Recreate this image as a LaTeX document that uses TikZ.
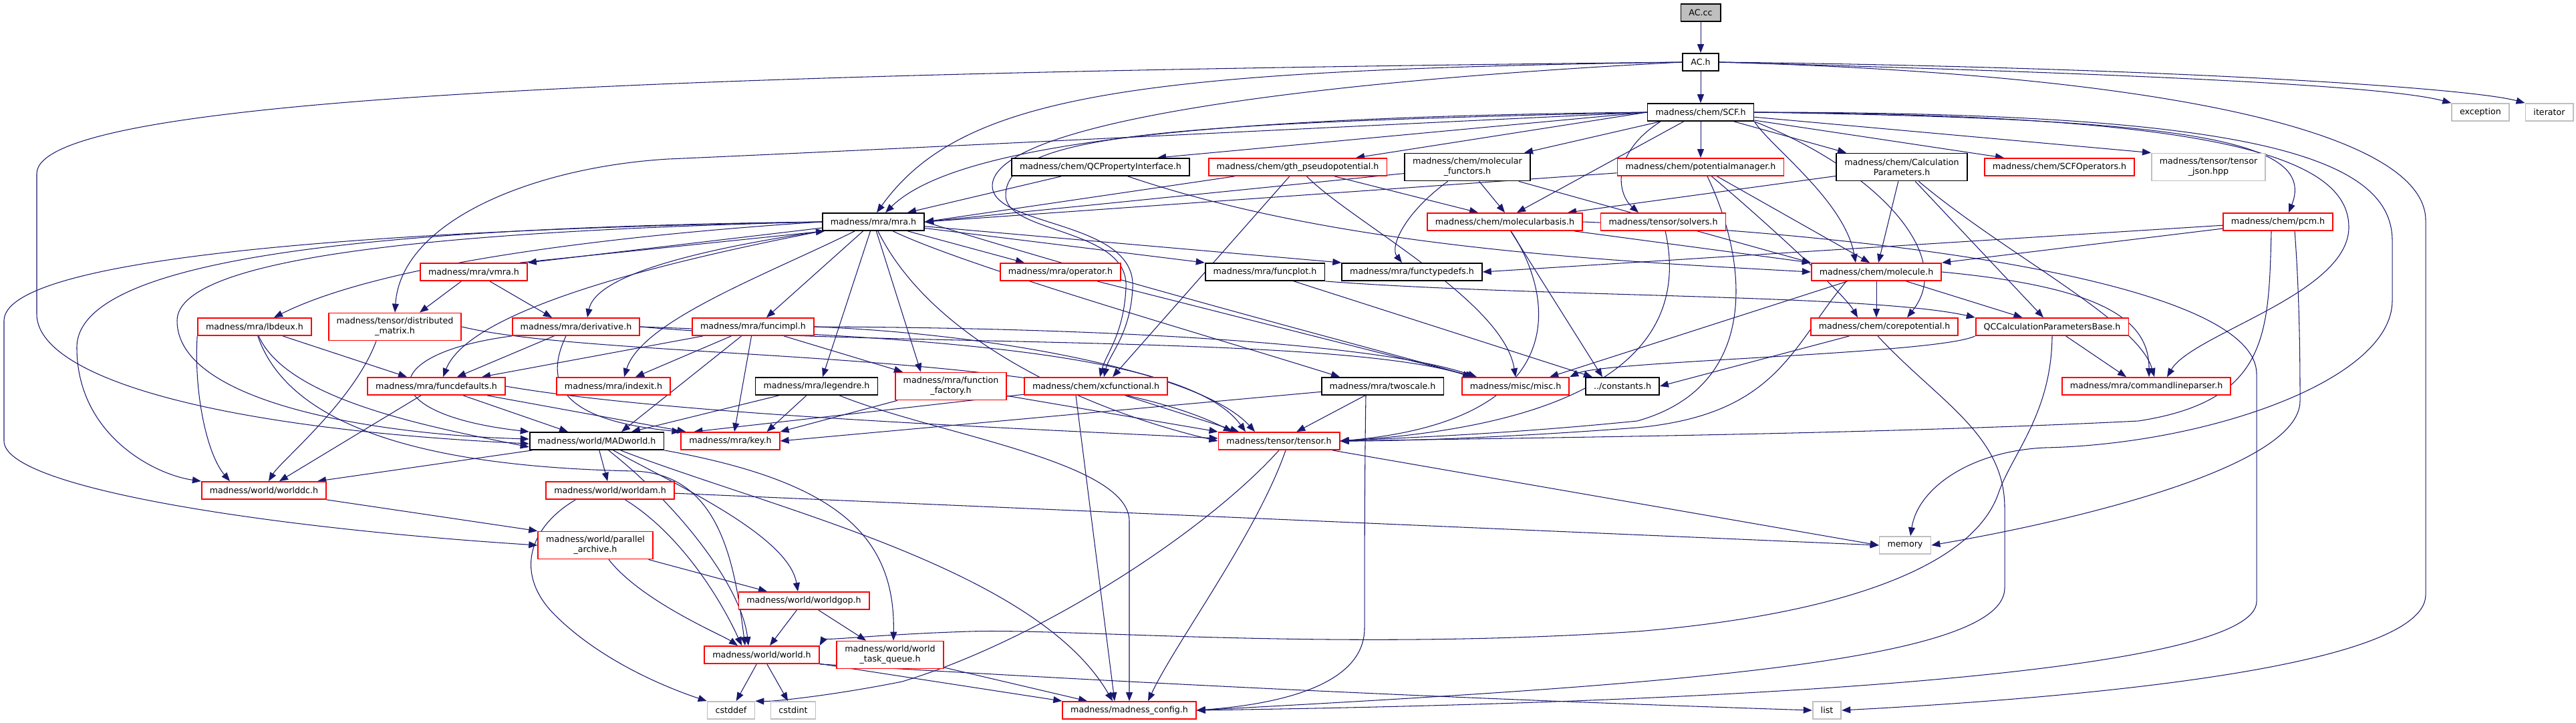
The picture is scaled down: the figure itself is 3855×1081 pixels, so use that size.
\documentclass[tikz,border=0pt]{standalone}
\usepackage{fontspec}
\setmainfont{DejaVu Sans}
\usepackage{tikz}
\usetikzlibrary{arrows.meta,calc,backgrounds}
\definecolor{edgeblue}{RGB}{25,25,112}
\definecolor{sysgray}{RGB}{191,191,191}

\begin{document}
\begin{tikzpicture}[x=0.01cm, y=-0.01cm,
  hdr/.style={draw=black, fill=white, line width=0.5pt, inner xsep=0.12cm, inner ysep=0pt,
    minimum height=0.26cm, align=center, font=\fontsize{3.6}{4.3}\selectfont},
  cut/.style={hdr, draw=red},
  sys/.style={hdr, draw=sysgray},
  srcfile/.style={hdr, fill=sysgray},
  tall/.style={minimum height=0.41cm},
  dep/.style={draw=edgeblue, line width=0.3pt, -{Triangle[length=0.13cm, width=0.1cm]}},
]
\useasboundingbox (0,0) rectangle (3855,1081);

% headers
\node[srcfile] (accc) at (2545,19) {AC.cc};
\node[hdr] (ach) at (2545,93) {AC.h};
\node[hdr] (scf) at (2545,168) {madness/chem/SCF.h};
\node[sys] (exc) at (3712,168) {exception};
\node[sys] (iter) at (3815,168) {iterator};
\node[hdr] (qcprop) at (1647,250) {madness/chem/QCPropertyInterface.h};
\node[cut] (gth) at (1942,250) {madness/chem/gth\_pseudopotential.h};
\node[hdr, tall] (molfunc) at (2196,250) {madness/chem/molecular\\\_functors.h};
\node[cut] (potmgr) at (2545,250) {madness/chem/potentialmanager.h};
\node[hdr, tall] (calcpar) at (2846,250) {madness/chem/Calculation\\Parameters.h};
\node[cut] (scfops) at (3082,250) {madness/chem/SCFOperators.h};
\node[sys, tall] (tjson) at (3305,250) {madness/tensor/tensor\\\_json.hpp};
\node[hdr] (mra) at (1307,332) {madness/mra/mra.h};
\node[cut] (molbasis) at (2252,332) {madness/chem/molecularbasis.h};
\node[cut] (solvers) at (2489,332) {madness/tensor/solvers.h};
\node[cut] (pcm) at (3409,332) {madness/chem/pcm.h};
\node[cut] (vmra) at (709,407) {madness/mra/vmra.h};
\node[cut] (oper) at (1587,407) {madness/mra/operator.h};
\node[hdr] (funcplot) at (1893,407) {madness/mra/funcplot.h};
\node[hdr] (ftypes) at (2113,407) {madness/mra/functypedefs.h};
\node[cut] (molecule) at (2808,407) {madness/chem/molecule.h};
\node[cut] (lbdeux) at (381,489) {madness/mra/lbdeux.h};
\node[cut, tall] (distmat) at (591,489) {madness/tensor/distributed\\\_matrix.h};
\node[cut] (deriv) at (862,489) {madness/mra/derivative.h};
\node[cut] (funcimpl) at (1127,489) {madness/mra/funcimpl.h};
\node[cut] (corepot) at (2820,489) {madness/chem/corepotential.h};
\node[cut] (qcbase) at (3071,489) {QCCalculationParametersBase.h};
\node[cut] (funcdef) at (653,578) {madness/mra/funcdefaults.h};
\node[cut] (indexit) at (918,578) {madness/mra/indexit.h};
\node[hdr] (legendre) at (1222,578) {madness/mra/legendre.h};
\node[cut, tall] (ffactory) at (1423,578) {madness/mra/function\\\_factory.h};
\node[cut] (xcfun) at (1640,578) {madness/chem/xcfunctional.h};
\node[hdr] (twoscale) at (2069,578) {madness/mra/twoscale.h};
\node[cut] (misc) at (2268,578) {madness/misc/misc.h};
\node[hdr] (consts) at (2428,578) {../constants.h};
\node[cut] (cmdline) at (3212,578) {madness/mra/commandlineparser.h};
\node[hdr] (madworld) at (893,660) {madness/world/MADworld.h};
\node[cut] (key) at (1093,660) {madness/mra/key.h};
\node[cut] (tensor) at (1914,660) {madness/tensor/tensor.h};
\node[cut] (worlddc) at (395,734) {madness/world/worlddc.h};
\node[cut] (worldam) at (913,734) {madness/world/worldam.h};
\node[cut, tall] (parch) at (891,816) {madness/world/parallel\\\_archive.h};
\node[sys] (memory) at (2851,816) {memory};
\node[cut] (worldgop) at (1203,899) {madness/world/worldgop.h};
\node[cut] (world) at (1140,980) {madness/world/world.h};
\node[cut, tall] (taskq) at (1332,980) {madness/world/world\\\_task\_queue.h};
\node[sys] (cstddef) at (1094,1063) {cstddef};
\node[sys] (cstdint) at (1187,1063) {cstdint};
\node[cut] (config) at (1690,1063) {madness/madness\_config.h};
\node[sys] (list) at (2734,1063) {list};

\begin{scope}[on background layer]
\foreach \a/\b in {accc/ach, ach/scf, scf/potmgr, scf/tjson.north west,
  mra/funcplot.north west, mra/ftypes.north west, mra/vmra.north east,
  potmgr/mra.east, gth/mra.east, molfunc/mra.east, molfunc/molbasis.north,
  molfunc/molecule.north west, molbasis/molecule.north west, calcpar/qcbase,
  pcm/molecule.north east, pcm/ftypes.east, ffactory/key.north east,
  ffactory/tensor.north west, twoscale/tensor, twoscale/key.east,
  madworld/worldam, worlddc/parch.north west, worldam/memory.west,
  tensor/memory.west, world/cstddef, world/cstdint, world/config.north west,
  molecule/qcbase, corepot/consts.east, funcdef/worlddc}
  \draw[dep] (\a) -- (\b);

% AC.h
\draw[dep] (ach.east) .. controls (3100,108) and (3560,125) .. (exc.north west);
\draw[dep] (ach.east) .. controls (3200,100) and (3690,130) .. (iter.north west);
\draw[dep] (ach.east) .. controls (3250,112) and (3630,200) .. (3630,330) -- (3630,890) .. controls (3630,1010) and (3000,1050) .. (list.east);
\draw[dep] (ach.west) .. controls (1700,105) and (1440,140) .. ($(mra.north)+(5,0)$);
\draw[dep] (ach.west) .. controls (900,110) and (55,150) .. (55,260) -- (55,470) .. controls (55,560) and (300,640) .. ($(madworld.west)+(0,4)$);
\draw[dep] (ach.west) .. controls (1900,125) and (1480,190) .. (1485,280) .. controls (1490,340) and (1700,330) .. (1695,430) .. controls (1692,500) and (1660,530) .. ($(xcfun.north)+(12,0)$);

% SCF.h
\draw[dep] (scf.west) -- ($(qcprop.north)+(85,0)$);
\draw[dep] (scf.west) -- ($(gth.north)+(87,0)$);
\draw[dep] (scf) -- ($(molfunc.north)+(85,0)$);
\draw[dep] (scf) -- ($(molbasis.north)+(18,0)$);
\draw[dep] (scf) -- ($(calcpar.north)-(83,0)$);
\draw[dep] (scf) -- ($(scfops.north)-(83,0)$);
\draw[dep] (scf.west) .. controls (1800,175) and (1430,215) .. ($(mra.north)+(18,0)$);
\draw[dep] (scf.west) .. controls (1750,185) and (1510,200) .. (1505,290) .. controls (1500,350) and (1690,340) .. (1685,430) .. controls (1682,500) and (1655,530) .. ($(xcfun.north)+(6,0)$);
\draw[dep] (scf.west) .. controls (2000,190) and (1300,225) .. (1000,238) .. controls (800,250) and (600,330) .. (distmat.north);
\draw[dep] ($(scf.south)-(60,0)$) .. controls (2410,230) and (2420,290) .. ($(solvers.north)-(37,0)$);
\draw[dep] (scf.east) .. controls (3250,178) and (3470,205) .. ($(pcm.north)+(16,0)$);
\draw[dep] (scf.south east) .. controls (2650,220) and (2760,300) .. ($(molecule.north)-(31,0)$);
\draw[dep] (scf.south east) .. controls (2800,250) and (2930,380) .. ($(corepot.north)+(34,0)$);
\draw[dep] (scf.east) .. controls (3300,172) and (3515,230) .. (3515,340) .. controls (3515,440) and (3280,500) .. ($(cmdline.north)+(31,0)$);
\draw[dep] (scf.east) .. controls (3350,168) and (3580,230) .. (3580,360) -- (3580,450) .. controls (3580,570) and (3300,665) .. (3060,670) .. controls (2950,675) and (2870,730) .. ($(memory.north)+(8,0)$);

% mra.h
\draw[dep] ($(vmra.north east)-(12,0)$) -- ($(mra.south west)+(4,0)$);
\draw[dep] (mra.west) .. controls (950,350) and (580,390) .. ($(lbdeux.north)+(29,0)$);
\draw[dep] (mra.south west) .. controls (1000,380) and (890,420) .. ($(deriv.north)+(17,0)$);
\draw[dep] (mra) -- ($(funcimpl.north)+(20,0)$);
\draw[dep] (mra.south west) .. controls (950,400) and (700,470) .. ($(funcdef.north)+(10,0)$);
\draw[dep] (mra) .. controls (1150,410) and (960,480) .. ($(indexit.north)+(16,0)$);
\draw[dep] (mra) -- ($(legendre.north)+(9,0)$);
\draw[dep] (mra) -- ($(ffactory.north)-(45,0)$);
\draw[dep] (mra) -- ($(oper.north)-(54,0)$);
\draw[dep] (mra) .. controls (1450,400) and (1800,500) .. ($(twoscale.north)-(64,0)$);
\draw[dep] (mra.east) .. controls (1700,430) and (2050,520) .. ($(misc.north)-(62,0)$);
\draw[dep] (mra) .. controls (1400,520) and (1650,620) .. (tensor.west);
\draw[dep] (mra.west) .. controls (700,345) and (265,380) .. (265,480) .. controls (265,600) and (550,650) .. ($(madworld.west)-(0,3)$);
\draw[dep] (mra.west) .. controls (600,340) and (115,380) .. (115,520) .. controls (115,650) and (230,710) .. (worlddc.north west);
\draw[dep] (mra.west) .. controls (500,345) and (6,390) .. (6,480) -- (6,660) .. controls (6,730) and (400,790) .. (parch.west);

% mra sub-headers
\draw[dep] (vmra) -- ($(distmat.north)+(37,0)$);
\draw[dep] (vmra) -- ($(deriv.north)-(36,0)$);
\draw[dep] (lbdeux) -- ($(funcdef.north)-(44,0)$);
\draw[dep] (lbdeux.south west) .. controls (290,590) and (310,680) .. ($(worlddc.north)-(51,0)$);
\draw[dep] (lbdeux) .. controls (430,600) and (650,640) .. ($(madworld.west)+(0,9)$);
\draw[dep] (lbdeux) .. controls (440,660) and (700,700) .. (950,705) .. controls (1080,710) and (1100,850) .. ($(world.north)-(25,0)$);
\draw[dep] ($(distmat.south)-(28,0)$) .. controls (530,600) and (420,690) .. ($(worlddc.north)+(7,0)$);
\draw[dep] (distmat.east) .. controls (900,540) and (1600,520) .. ($(tensor.north)-(70,0)$);
\draw[dep] (deriv) -- ($(funcdef.north)+(31,0)$);
\draw[dep] (deriv.south west) .. controls (560,530) and (560,620) .. (madworld.north west);
\draw[dep] ($(deriv.south)-(15,0)$) .. controls (810,580) and (850,630) .. (key.north west);
\draw[dep] (deriv.east) .. controls (1300,520) and (2000,500) .. ($(misc.north)-(66,0)$);
\draw[dep] (deriv.east) .. controls (1400,505) and (1780,530) .. ($(tensor.north)-(50,0)$);
\draw[dep] (funcimpl) -- ($(funcdef.north)+(68,0)$);
\draw[dep] (funcimpl) -- ($(indexit.north)+(33,0)$);
\draw[dep] (funcimpl) -- ($(madworld.north)+(37,0)$);
\draw[dep] (funcimpl) -- ($(key.north)+(6,0)$);
\draw[dep] (funcimpl) -- ($(ffactory.north)-(72,0)$);
\draw[dep] (funcimpl.east) .. controls (1600,490) and (2050,510) .. ($(misc.north)-(58,0)$);
\draw[dep] (funcimpl.east) .. controls (1500,500) and (1800,560) .. ($(tensor.north)-(36,0)$);
\draw[dep] (funcdef) -- ($(madworld.north)-(43,0)$);
\draw[dep] (funcdef) -- ($(key.north west)+(8,0)$);
\draw[dep] (funcdef.east) .. controls (1000,620) and (1500,640) .. ($(tensor.west)-(0,4)$);
\draw[dep] (legendre) -- ($(madworld.north)+(52,0)$);
\draw[dep] (legendre) -- ($(key.north east)-(20,0)$);
\draw[dep] (legendre) .. controls (1400,650) and (1690,690) .. (1690,780) -- (config.north);
\draw[dep] (xcfun) -- ($(key.north west)+(20,0)$);
\draw[dep] (xcfun) -- ($(tensor.north)-(60,0)$);
\draw[dep] ($(xcfun.south)-(30,0)$) -- ($(config.north)-(22,0)$);
\draw[dep] ($(twoscale.south)-(25,0)$) .. controls (2042,700) and (2042,880) .. (2042,940) .. controls (2042,1030) and (1900,1055) .. (config.east);
\draw[dep] (funcplot) -- ($(consts.north)-(45,0)$);
\draw[dep] (funcplot.south east) .. controls (2300,445) and (2800,440) .. (qcbase.north west);
\draw[dep] (oper) -- ($(misc.north)-(60,0)$);

% chem headers
\draw[dep] (qcprop) -- ($(mra.north)+(51,0)$);
\draw[dep] (qcprop) .. controls (2000,370) and (2400,390) .. (molecule.west);
\draw[dep] (gth) -- ($(xcfun.north)+(25,0)$);
\draw[dep] (gth) -- ($(molbasis.north)-(40,0)$);
\draw[dep] (gth) .. controls (2020,330) and (2250,450) .. (misc.north);
\draw[dep] (molfunc) .. controls (2100,320) and (2080,370) .. ($(ftypes.north)-(15,0)$);
\draw[dep] (potmgr) -- ($(molecule.north)-(10,0)$);
\draw[dep] (potmgr) .. controls (2640,330) and (2760,440) .. ($(corepot.north)-(40,0)$);
\draw[dep] ($(potmgr.south)+(10,0)$) .. controls (2620,400) and (2630,580) .. (2450,630) .. controls (2250,650) and (2100,655) .. (tensor.east);
\draw[dep] (calcpar) -- ($(molbasis.north)+(94,0)$);
\draw[dep] (calcpar) -- ($(molecule.north)+(3,0)$);
\draw[dep] (calcpar) .. controls (3000,380) and (3200,480) .. ($(cmdline.north)+(12,0)$);
\draw[dep] (molbasis) -- ($(consts.north)-(30,0)$);
\draw[dep] (molbasis) .. controls (2330,450) and (2350,630) .. (tensor.east);
\draw[dep] (molbasis.east) .. controls (2800,350) and (3377,420) .. (3377,560) -- (3377,900) .. controls (3377,1000) and (2700,1050) .. (config.east);
\draw[dep] (solvers) .. controls (2520,470) and (2470,630) .. (tensor.east);
\draw[dep] ($(pcm.south)-(10,0)$) .. controls (3395,500) and (3395,600) .. (3200,630) .. controls (2800,650) and (2300,655) .. (tensor.east);
\draw[dep] ($(pcm.south)+(25,0)$) .. controls (3442,450) and (3442,560) .. (3442,600) .. controls (3442,700) and (3100,780) .. (memory.east);
\draw[dep] (molecule) -- ($(corepot.north)-(12,0)$);
\draw[dep] (molecule) -- ($(misc.north east)-(30,0)$);
\draw[dep] ($(molecule.south)-(45,0)$) .. controls (2680,520) and (2660,620) .. (2450,640) .. controls (2250,655) and (2100,660) .. (tensor.east);
\draw[dep] (molecule.east) .. controls (3150,430) and (3216,480) .. ($(cmdline.north)+(4,0)$);
\draw[dep] ($(corepot.south)-(10,0)$) .. controls (2900,600) and (3000,650) .. (3000,760) -- (3000,880) .. controls (3000,990) and (2500,1025) .. (config.east);
\draw[dep] (qcbase.south west) .. controls (2900,530) and (2400,540) .. (misc.north east);
\draw[dep] (qcbase) -- ($(cmdline.north)-(30,0)$);
\draw[dep] (qcbase.south) .. controls (3070,620) and (3010,680) .. (2990,740) .. controls (2950,850) and (2750,920) .. (2450,945) .. controls (2000,975) and (1600,940) .. (1450,945) .. controls (1300,950) and (1230,960) .. (world.north east);

% world headers
\draw[dep] (tensor.south) .. controls (1800,800) and (1550,960) .. (1350,1020) .. controls (1250,1040) and (1160,1050) .. (cstddef.north east);
\draw[dep] ($(tensor.south)+(10,0)$) .. controls (1880,800) and (1760,960) .. ($(config.north)+(28,0)$);
\draw[dep] (madworld) -- ($(worlddc.north)+(80,0)$);
\draw[dep] (madworld) .. controls (1000,720) and (1180,800) .. ($(worldgop.north)-(9,0)$);
\draw[dep] (madworld) .. controls (1020,760) and (1110,880) .. ($(world.north)-(20,0)$);
\draw[dep] (madworld) .. controls (1150,760) and (1550,850) .. ($(config.north)-(25,0)$);
\draw[dep] (madworld.south east) .. controls (1250,720) and (1340,800) .. ($(taskq.north)+(5,0)$);
\draw[dep] (worldam) .. controls (1020,800) and (1080,900) .. ($(world.north)-(30,0)$);
\draw[dep] ($(worldam.south west)+(45,0)$) .. controls (790,790) and (770,860) .. (830,920) .. controls (900,990) and (1000,1030) .. (cstddef.north west);
\draw[dep] (parch) -- ($(worldgop.north)-(55,0)$);
\draw[dep] ($(parch.south)+(20,0)$) .. controls (960,900) and (1080,950) .. ($(world.north)-(36,0)$);
\draw[dep] (worldgop) -- ($(world.north)+(12,0)$);
\draw[dep] (worldgop) -- ($(taskq.north)-(36,0)$);
\draw[dep] (world.south east) .. controls (1500,1010) and (2000,1040) .. (list.west);
\draw[dep] (taskq) -- ($(config.north)-(63,0)$);
\end{scope}
\end{tikzpicture}
\end{document}
